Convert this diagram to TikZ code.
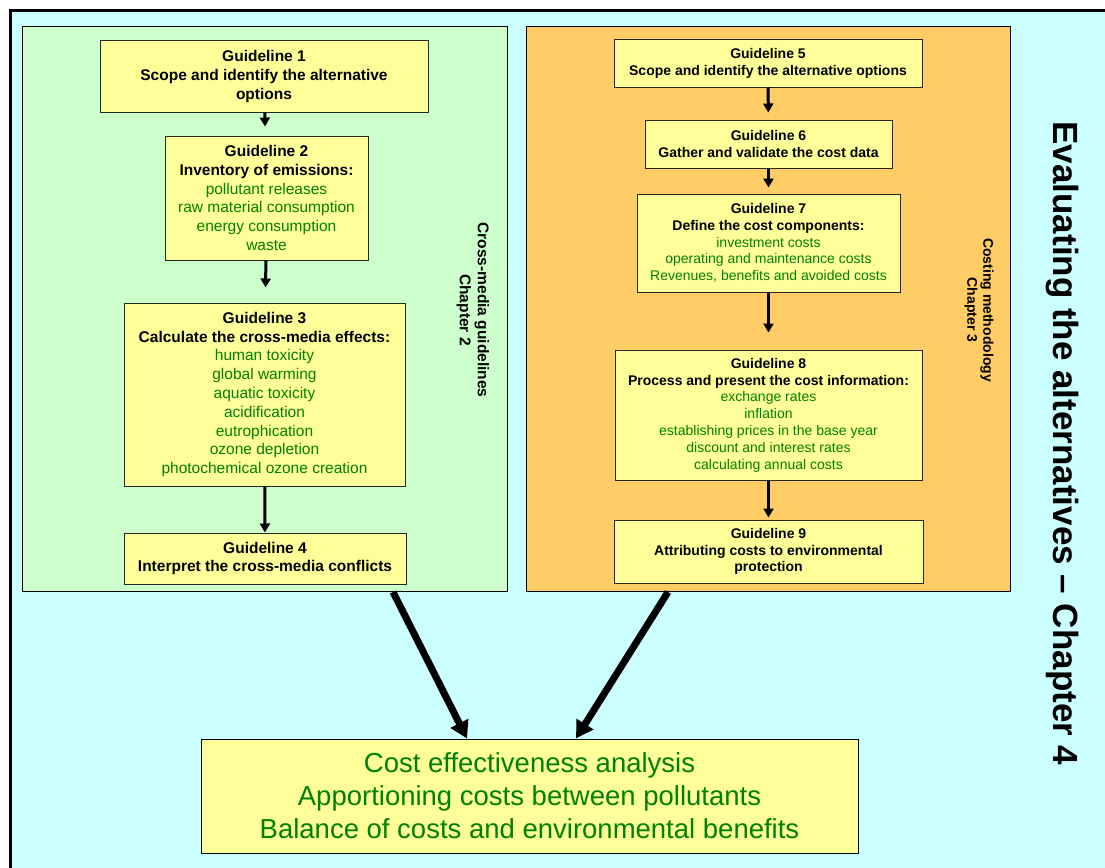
\documentclass[tikz,border=0pt]{standalone}
\usepackage{xcolor}
\usepackage{tikz}
\usepackage{fontspec}
\setmainfont{Liberation Sans}
\usetikzlibrary{arrows.meta}

\definecolor{bgcyan}{HTML}{CCFFFF}
\definecolor{panelgreen}{HTML}{CCFFCC}
\definecolor{panelorange}{HTML}{FFCC66}
\definecolor{boxyellow}{HTML}{FFFF99}
\definecolor{textgreen}{HTML}{008000}

\newcommand{\gitem}[1]{\textcolor{textgreen}{\mdseries #1}}

\tikzset{
  panel/.style={draw=black, line width=1pt, inner sep=0pt},
  crossbox/.style={draw=black!85, line width=1pt, fill=boxyellow, inner sep=0pt, align=center,
    font=\fontsize{15.5}{18.8}\selectfont\bfseries},
  costbox/.style={draw=black!85, line width=1pt, fill=boxyellow, inner sep=0pt, align=center,
    font=\fontsize{14}{16.8}\selectfont\bfseries},
  flow/.style={line width=3pt, -{Triangle[width=10pt,length=9pt]}},
  bigflow/.style={line width=7pt, -{Triangle[width=19pt,length=17pt]}},
}

\begin{document}
\begin{tikzpicture}[x=1pt, y=-1pt]
    \clip (0,0) rectangle (1105,867);
    \fill[bgcyan] (10,11) rectangle (1120,880);
    \draw[line width=3pt] (10,880) -- (10,11) -- (1120,11);

    \node[panel, fill=panelgreen, minimum width=485pt, minimum height=564pt] (cross) at (264.5,309) {};
    \node[panel, fill=panelorange, minimum width=484pt, minimum height=564pt] (costing) at (768,309) {};

    \node[crossbox, minimum width=328pt, minimum height=71pt] (g1) at (264,76.5)
        {Guideline 1\\Scope and identify the alternative\\options};
    \node[crossbox, minimum width=203pt, minimum height=124pt] (g2) at (266.5,198)
        {Guideline 2\\Inventory of emissions:\\\gitem{pollutant releases}\\\gitem{raw material consumption}\\\gitem{energy consumption}\\\gitem{waste}};
    \node[crossbox, minimum width=281pt, minimum height=183pt] (g3) at (264.5,394.5)
        {Guideline 3\\Calculate the cross-media effects:\\\gitem{human toxicity}\\\gitem{global warming}\\\gitem{aquatic toxicity}\\\gitem{acidification}\\\gitem{eutrophication}\\\gitem{ozone depletion}\\\gitem{photochemical ozone creation}};
    \node[crossbox, minimum width=282pt, minimum height=51pt] (g4) at (265,558.5)
        {Guideline 4\\Interpret the cross-media conflicts};

    \node[costbox, minimum width=308pt, minimum height=47pt] (g5) at (768,63.5)
        {Guideline 5\\Scope and identify the alternative options};
    \node[costbox, minimum width=247pt, minimum height=48pt] (g6) at (768.5,144)
        {Guideline 6\\Gather and validate the cost data};
    \node[costbox, minimum width=263pt, minimum height=98pt] (g7) at (768.5,243)
        {Guideline 7\\Define the cost components:\\\gitem{investment costs}\\\gitem{operating and maintenance costs}\\\gitem{Revenues, benefits and avoided costs}};
    \node[costbox, minimum width=307pt, minimum height=130pt] (g8) at (768.5,415)
        {Guideline 8\\Process and present the cost information:\\\gitem{exchange rates}\\\gitem{inflation}\\\gitem{establishing prices in the base year}\\\gitem{discount and interest rates}\\\gitem{calculating annual costs}};
    \node[costbox, minimum width=309pt, minimum height=63pt] (g9) at (768.5,551.5)
        {Guideline 9\\Attributing costs to environmental\\protection};

    \node[rotate=-90, align=center, font=\fontsize{15.5}{18}\selectfont\bfseries] (crosslabel) at (473,310)
        {Cross-media guidelines\\Chapter 2};
    \node[rotate=-90, align=center, font=\fontsize{14}{16}\selectfont\bfseries] (costlabel) at (979,310)
        {Costing methodology\\Chapter 3};
    \node[rotate=-90, font=\fontsize{35}{40}\selectfont\bfseries] (title) at (1062,443.5)
        {Evaluating the alternatives -- Chapter 4};

    \node[draw=black, line width=1pt, fill=boxyellow, align=center, minimum width=657pt, minimum height=114pt,
        font=\fontsize{27.5}{33}\selectfont, text=textgreen] (result) at (529.5,796)
        {Cost effectiveness analysis\\Apportioning costs between pollutants\\Balance of costs and environmental benefits};

    \draw[flow, shorten >=9pt] (g1) -- (g2);
    \draw[flow, shorten >=15pt] (g2) -- (g3);
    \draw[flow] (g3) -- (g4);
    \draw[flow, shorten >=7pt] (g5) -- (g6);
    \draw[flow, shorten >=6pt] (g6) -- (g7);
    \draw[flow, shorten >=17pt] (g7) -- (g8);
    \draw[flow, shorten >=2pt] (g8) -- (g9);

    \coordinate (crossfoot) at (393,592);
    \coordinate (costfoot) at (668,592);
    \draw[bigflow] (crossfoot) -- (467,0 |- result.north);
    \draw[bigflow] (costfoot) -- (576,0 |- result.north);
\end{tikzpicture}
\end{document}
